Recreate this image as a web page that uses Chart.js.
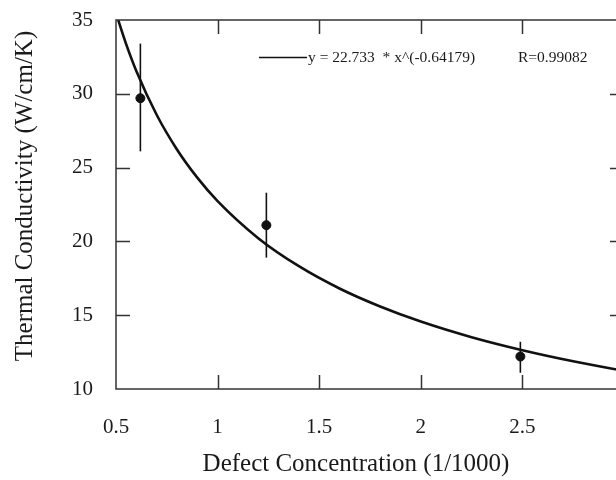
<!DOCTYPE html>
<html>
<head>
<meta charset="utf-8">
<script src="https://cdn.jsdelivr.net/npm/chart.js@4"></script>
<style>
  html, body { margin: 0; padding: 0; background: #fff; overflow: hidden; }
  #wrap { width: 632px; height: 480px; }
</style>
</head>
<body>
<div id="wrap"><canvas id="mainChart" width="632" height="480"></canvas></div>
<script>
// measured points and error bars
const measX = [0.62, 1.24, 2.49];
const measY = [29.7, 21.1, 12.2];
const errLow = [26.1, 18.9, 11.1];
const errHigh = [33.4, 23.3, 13.2];

// fitted curve
const fitX = [0.5, 0.55, 0.6, 0.7, 0.8, 0.9, 1.0, 1.2, 1.4, 1.6, 1.8, 2.0, 2.25, 2.5, 2.75, 3.0];
const fitY = [35.47, 33.37, 31.55, 28.58, 26.23, 24.32, 22.73, 20.22, 18.32, 16.81, 15.59, 14.57, 13.51, 12.63, 11.88, 11.23];

const xTicks = [0.5, 1, 1.5, 2, 2.5, 3];
const yTicks = [10, 15, 20, 25, 30, 35];

const fitLabel = 'y = 22.733  * x^(-0.64179)';
const rLabel = 'R=0.99082';
const xTitle = 'Defect Concentration (1/1000)';
const yTitle = 'Thermal Conductivity (W/cm/K)';

const serif = '"Liberation Serif", "DejaVu Serif", serif';
const ink = '#1a1a1a';

const framePlugin = {
    id: 'frame',
    beforeDatasetsDraw(chart) {
        const { ctx, scales: { x, y } } = chart;
        ctx.save();
        ctx.strokeStyle = '#111';
        ctx.lineWidth = 1.6;
        measX.forEach((v, i) => {
            const px = x.getPixelForValue(v);
            ctx.beginPath();
            ctx.moveTo(px, y.getPixelForValue(errLow[i]));
            ctx.lineTo(px, y.getPixelForValue(errHigh[i]));
            ctx.stroke();
        });
        ctx.restore();
    },
    afterDraw(chart) {
        const { ctx, chartArea: a, scales: { x, y } } = chart;
        ctx.save();
        ctx.strokeStyle = '#333';
        ctx.lineWidth = 1.5;
        ctx.strokeRect(a.left, a.top, a.right - a.left, a.bottom - a.top);

        const tl = 14;
        ctx.beginPath();
        xTicks.slice(1, -1).forEach(v => {
            const px = Math.round(x.getPixelForValue(v)) + 0.5;
            ctx.moveTo(px, a.bottom); ctx.lineTo(px, a.bottom - tl);
            ctx.moveTo(px, a.top); ctx.lineTo(px, a.top + tl);
        });
        yTicks.slice(1, -1).forEach(v => {
            const py = Math.round(y.getPixelForValue(v)) + 0.5;
            ctx.moveTo(a.left, py); ctx.lineTo(a.left + tl, py);
            ctx.moveTo(a.right, py); ctx.lineTo(a.right - tl, py);
        });
        ctx.stroke();

        // fit legend
        ctx.lineWidth = 1.6;
        ctx.strokeStyle = '#111';
        ctx.beginPath();
        ctx.moveTo(259, 57.5);
        ctx.lineTo(307, 57.5);
        ctx.stroke();
        ctx.fillStyle = ink;
        ctx.font = '15.5px ' + serif;
        ctx.textBaseline = 'middle';
        ctx.textAlign = 'left';
        ctx.fillText(fitLabel, 308, 58);
        ctx.fillText(rLabel, 518, 58);

        // axis titles
        ctx.font = '25px ' + serif;
        ctx.textAlign = 'center';
        ctx.textBaseline = 'alphabetic';
        ctx.fillText(xTitle, 356, 471);
        ctx.translate(32, 196);
        ctx.rotate(-Math.PI / 2);
        ctx.fillText(yTitle, 0, 0);
        ctx.restore();
    }
};

new Chart(document.getElementById('mainChart'), {
    type: 'scatter',
    data: {
        datasets: [{
            label: 'data',
            data: measX.map((v, i) => ({ x: v, y: measY[i] })),
            backgroundColor: '#111',
            borderColor: '#111',
            pointRadius: 4.5,
            pointHoverRadius: 4.5,
            order: 0
        }, {
            type: 'line',
            label: 'fit',
            data: fitX.map((v, i) => ({ x: v, y: fitY[i] })),
            borderColor: '#111',
            borderWidth: 2.6,
            pointRadius: 0,
            cubicInterpolationMode: 'monotone',
            fill: false,
            clip: 0,
            order: 1
        }]
    },
    plugins: [framePlugin],
    options: {
        responsive: false,
        animation: false,
        events: [],
        layout: { padding: { top: 20, right: 8, left: 0, bottom: 0 } },
        plugins: {
            legend: { display: false },
            tooltip: { enabled: false }
        },
        scales: {
            x: {
                type: 'linear',
                min: 0.5,
                max: 3,
                afterFit: s => { s.height = 91; s.paddingLeft = 0; s.paddingRight = 0; },
                afterBuildTicks: s => { s.ticks = xTicks.map(v => ({ value: v })); },
                grid: { display: false, drawTicks: false },
                border: { display: false },
                ticks: {
                    color: ink,
                    padding: 26,
                    maxRotation: 0,
                    callback: v => String(v),
                    font: { family: serif, size: 21 }
                }
            },
            y: {
                min: 10,
                max: 35,
                afterFit: s => { s.width = 116; s.paddingTop = 0; s.paddingBottom = 0; },
                afterBuildTicks: s => { s.ticks = yTicks.map(v => ({ value: v })); },
                grid: { display: false, drawTicks: false },
                border: { display: false },
                ticks: {
                    color: ink,
                    padding: 23,
                    font: { family: serif, size: 21 }
                }
            }
        }
    }
});
</script>
</body>
</html>
